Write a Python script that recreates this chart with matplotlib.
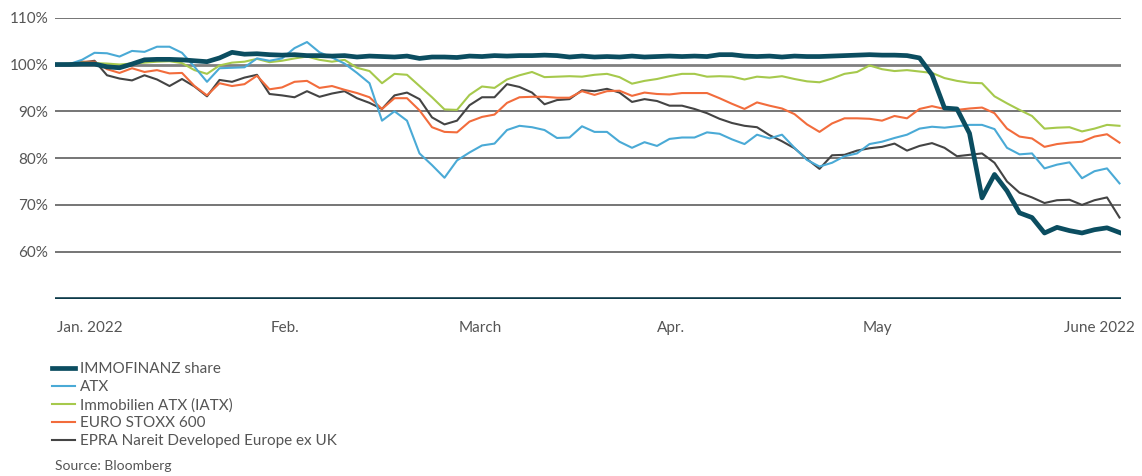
import numpy as np
import matplotlib.pyplot as plt
from matplotlib.transforms import blended_transform_factory

plt.rcParams['font.family'] = ['Lato', 'DejaVu Sans']

# Indexed performance (start = 100 %), roughly one value every ~1.5 trading days
immofinanz = [100, 100, 100.1, 100.1, 99.5, 99.3, 100.1, 101, 101.1, 101.1,
              101, 100.8, 100.6, 101.4, 102.6, 102.2, 102.3, 102.1, 102, 102.1,
              101.9, 101.9, 101.8, 101.9, 101.6, 101.8, 101.7, 101.6, 101.8, 101.3,
              101.6, 101.6, 101.5, 101.8, 101.7, 101.9, 101.8, 101.9, 101.9, 102,
              101.9, 101.6, 101.8, 101.6, 101.7, 101.6, 101.8, 101.6, 101.7, 101.8,
              101.7, 101.8, 101.7, 102.1, 102.1, 101.8, 101.7, 101.8, 101.6, 101.8,
              101.7, 101.7, 101.8, 101.9, 102, 102.1, 102, 102, 101.9, 101.4,
              97.8, 90.7, 90.5, 85.3, 71.5, 76.5, 73, 68.3, 67.3, 64,
              65.2, 64.5, 64, 64.7, 65.1, 64.1]
atx = [100, 100.1, 101, 102.5, 102.4, 101.7, 102.9, 102.7, 103.8, 103.8,
       102.5, 99.5, 96.3, 99.2, 99.3, 99.4, 101.3, 100.8, 101.3, 103.5,
       104.8, 102.6, 101.5, 100.2, 98.2, 96, 88, 90, 88, 81,
       78.5, 75.8, 79.5, 81.2, 82.7, 83.1, 86, 86.9, 86.6, 86,
       84.3, 84.4, 86.8, 85.6, 85.6, 83.5, 82.2, 83.4, 82.6, 84.1,
       84.4, 84.4, 85.5, 85.2, 84, 83, 85, 84.2, 85, 82.2,
       79.6, 78.2, 79, 80.4, 81, 83, 83.5, 84.3, 85, 86.3,
       86.7, 86.5, 86.8, 87.1, 87.1, 86.2, 82.2, 80.8, 81, 77.8,
       78.6, 79.1, 75.7, 77.2, 77.8, 74.6]
iatx = [100, 100.2, 100.4, 100.3, 100.2, 100, 100.2, 100.4, 100.6, 100.7,
        100.3, 98.8, 98, 99.8, 100.4, 100.6, 101.2, 100.5, 100.8, 101.3,
        101.7, 101, 100.6, 101, 99.3, 98.6, 96, 98, 97.8, 95.4,
        93, 90.4, 90.3, 93.5, 95.3, 95, 96.8, 97.7, 98.4, 97.3,
        97.4, 97.5, 97.4, 97.8, 98, 97.3, 95.9, 96.5, 96.9, 97.5,
        98, 98, 97.4, 97.5, 97.4, 96.8, 97.4, 97.2, 97.5, 96.9,
        96.4, 96.2, 97, 98, 98.4, 99.8, 99, 98.6, 98.8, 98.5,
        98.2, 97.1, 96.5, 96.1, 96, 93.2, 91.7, 90.3, 89, 86.3,
        86.5, 86.6, 85.7, 86.3, 87.1, 86.9]
euro_stoxx = [100, 99.9, 100.6, 100.6, 99, 98.2, 99.2, 98.4, 98.8, 98.1,
              98.2, 95.4, 93.4, 96, 95.4, 95.8, 97.6, 94.7, 95.1, 96.3,
              96.5, 95, 95.4, 94.6, 93.9, 93, 90.5, 92.8, 92.8, 90.2,
              86.6, 85.6, 85.5, 87.8, 88.8, 89.3, 91.8, 93, 93.1, 93.1,
              92.9, 92.9, 94.3, 93.5, 94.3, 94.4, 93.3, 94, 93.7, 93.6,
              93.9, 93.9, 93.9, 92.8, 91.6, 90.5, 91.9, 91.2, 90.6, 89.4,
              87.2, 85.6, 87.4, 88.5, 88.5, 88.4, 88, 89, 88.5, 90.5,
              91.1, 90.5, 90.3, 90.6, 90.8, 89.6, 86.3, 84.6, 84.2, 82.4,
              83, 83.3, 83.5, 84.6, 85.1, 83.3]
epra = [100, 100.1, 100.4, 100.8, 97.7, 97, 96.6, 97.7, 96.8, 95.4,
        96.9, 95.3, 93.2, 96.7, 96.3, 97.2, 97.8, 93.7, 93.4, 93,
        94.3, 93.1, 93.8, 94.3, 92.8, 91.8, 90.5, 93.4, 94, 92.6,
        88.7, 87.2, 88, 91.3, 93, 93, 95.8, 95.2, 94, 91.5,
        92.4, 92.6, 94.5, 94.3, 94.8, 94, 92, 92.6, 92.2, 91.2,
        91.2, 90.5, 89.6, 88.4, 87.5, 86.9, 86.6, 84.9, 83.6, 82.1,
        79.8, 77.7, 80.6, 80.7, 81.6, 82.1, 82.4, 83.1, 81.6, 82.6,
        83.2, 82.2, 80.4, 80.7, 81, 79, 75, 72.6, 71.6, 70.4,
        71, 71.1, 70, 71, 71.6, 67.3]

month_labels = ['Jan. 2022', 'Feb.', 'March', 'Apr.', 'May', 'June 2022']
month_pos = [0, 18.2, 33.9, 49.1, 65.6, 85]
y_ticks = [60, 70, 80, 90, 100, 110]

series = [
    ('IMMOFINANZ share', immofinanz, '#0b4d60', 3.4, 6),
    ('ATX', atx, '#4aaad6', 1.5, 4),
    ('Immobilien ATX (IATX)', iatx, '#a6c94c', 1.5, 3),
    ('EURO STOXX 600', euro_stoxx, '#f26c3c', 1.5, 2),
    ('EPRA Nareit Developed Europe ex UK', epra, '#444444', 1.5, 1),
]

fig = plt.figure(figsize=(11.42, 4.76), dpi=100)
ax = fig.add_axes([55 / 1142, 1 - 298.5 / 476, 1066 / 1142, 280.8 / 476])

# horizontal reference lines
for yv in y_ticks:
    if yv == 100:
        ax.axhline(yv, color='#808080', lw=2.0, zorder=0)
    else:
        ax.axhline(yv, color='#505050', lw=1.1, zorder=0)
ax.axhline(50, color='#0d3b4a', lw=2.6, zorder=0)

handles = []
for name, vals, col, lw, z in series:
    x = np.arange(len(vals))
    ln, = ax.plot(x, vals, color=col, lw=lw, zorder=z, label=name)
    handles.append(ln)

ax.set_xlim(-0.16, 85.12)
ax.set_ylim(50, 110)
ax.set_xticks([])
ax.set_yticks(y_ticks)
ax.set_yticklabels([f'{v}%' for v in y_ticks], color='#555555', fontsize=11)
ax.tick_params(axis='y', length=0, pad=5)
for s in ax.spines.values():
    s.set_visible(False)

trans = blended_transform_factory(ax.transData, ax.transAxes)
for i, (lab, pos) in enumerate(zip(month_labels, month_pos)):
    ha = 'left' if i == 0 else ('right' if i == len(month_labels) - 1 else 'center')
    xoff = 1.2 if i == len(month_labels) - 1 else 0
    ax.text(pos + xoff, -0.105, lab, transform=trans, ha=ha, va='center',
            fontsize=11, color='#555555')

leg = fig.legend(handles=handles, loc='upper left',
                 bbox_to_anchor=(52 / 1142, 1 - 362 / 476), frameon=False,
                 fontsize=11, handlelength=1.5, handletextpad=0.3,
                 labelspacing=0.26, borderaxespad=0, borderpad=0)
for t in leg.get_texts():
    t.set_color('#555555')

fig.text(55 / 1142, 1 - 466 / 476, 'Source: Bloomberg', fontsize=10,
         color='#555555', va='center')

fig.savefig('out.png', dpi=100)
